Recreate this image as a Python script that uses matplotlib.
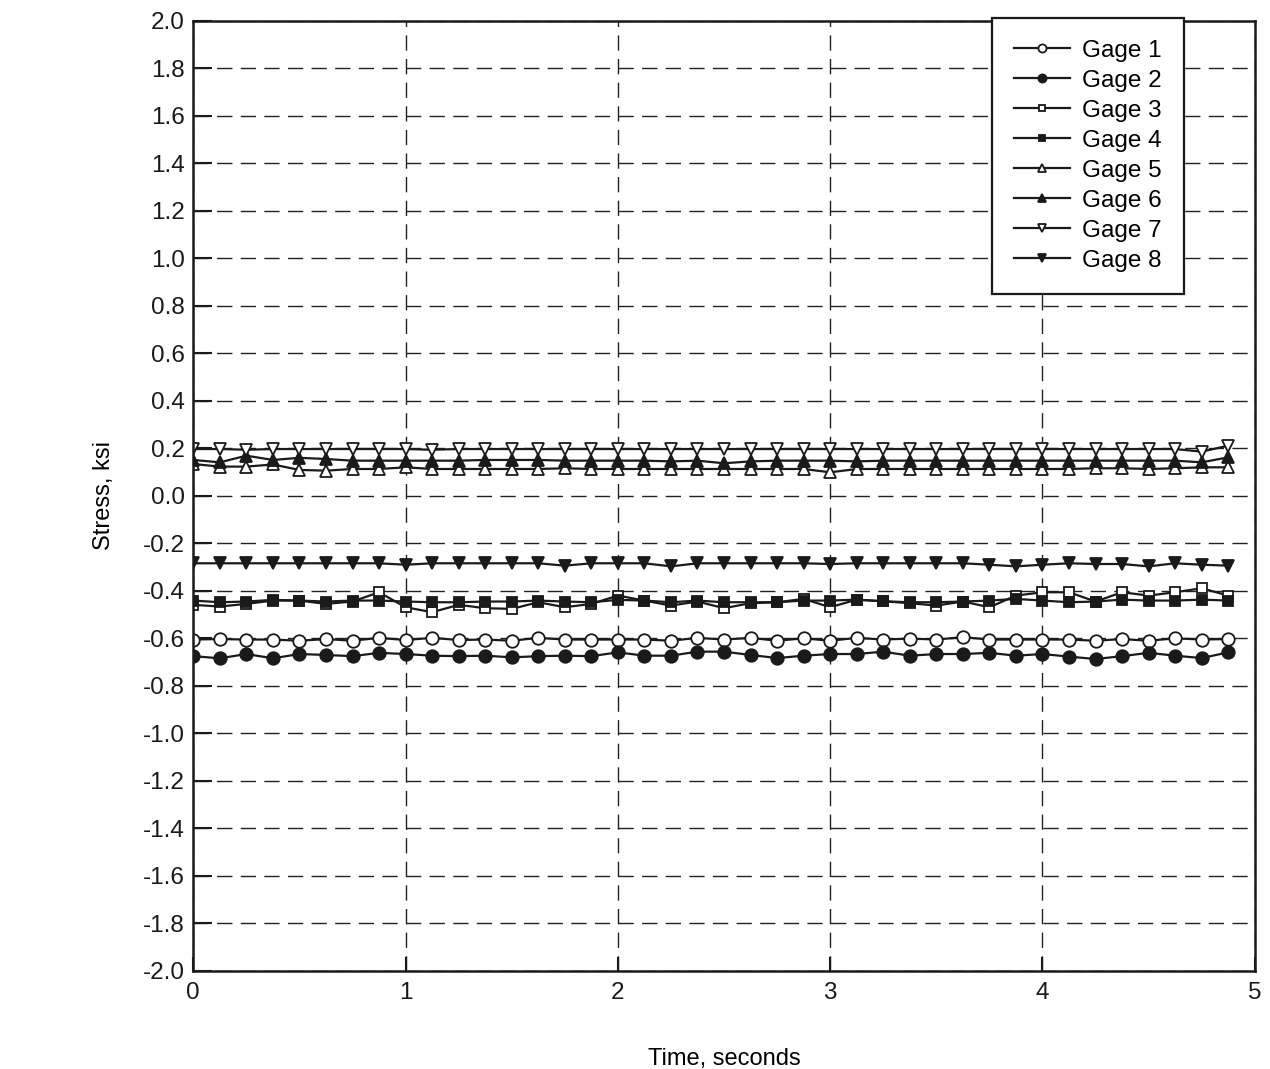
import numpy as np
import matplotlib.pyplot as plt

plt.rcParams['font.family'] = ['Liberation Sans', 'DejaVu Sans']

# sample times, s (one reading every 1/8 s)
time = [0.125 * i for i in range(40)]

# stress readings, ksi
gage1 = [-0.606, -0.604, -0.606, -0.606, -0.611, -0.604, -0.611, -0.599, -0.608, -0.599,
         -0.608, -0.606, -0.611, -0.599, -0.606, -0.606, -0.606, -0.606, -0.611, -0.599,
         -0.606, -0.599, -0.611, -0.601, -0.611, -0.599, -0.606, -0.602, -0.606, -0.596,
         -0.606, -0.606, -0.606, -0.606, -0.611, -0.604, -0.611, -0.601, -0.606, -0.604]
gage2 = [-0.676, -0.685, -0.667, -0.685, -0.667, -0.671, -0.676, -0.662, -0.667, -0.674,
         -0.676, -0.674, -0.681, -0.676, -0.674, -0.676, -0.660, -0.674, -0.674, -0.657,
         -0.657, -0.671, -0.684, -0.674, -0.667, -0.667, -0.657, -0.674, -0.667, -0.667,
         -0.662, -0.674, -0.667, -0.678, -0.688, -0.676, -0.662, -0.674, -0.684, -0.660]
gage3 = [-0.460, -0.467, -0.456, -0.442, -0.442, -0.456, -0.446, -0.407, -0.470, -0.491,
         -0.460, -0.474, -0.477, -0.449, -0.470, -0.456, -0.421, -0.442, -0.463, -0.446,
         -0.474, -0.453, -0.449, -0.435, -0.470, -0.438, -0.445, -0.453, -0.463, -0.446,
         -0.470, -0.421, -0.407, -0.407, -0.446, -0.407, -0.421, -0.407, -0.390, -0.421]
gage4 = [-0.442, -0.449, -0.446, -0.439, -0.442, -0.446, -0.442, -0.442, -0.446, -0.449,
         -0.449, -0.446, -0.446, -0.442, -0.446, -0.449, -0.439, -0.442, -0.449, -0.442,
         -0.449, -0.449, -0.449, -0.442, -0.442, -0.438, -0.445, -0.449, -0.449, -0.446,
         -0.442, -0.435, -0.442, -0.449, -0.446, -0.438, -0.442, -0.442, -0.438, -0.442]
gage5 = [0.133, 0.122, 0.122, 0.131, 0.108, 0.105, 0.112, 0.112, 0.119, 0.112,
         0.112, 0.112, 0.112, 0.112, 0.115, 0.112, 0.112, 0.112, 0.112, 0.112,
         0.112, 0.112, 0.112, 0.112, 0.098, 0.112, 0.112, 0.112, 0.112, 0.112,
         0.112, 0.112, 0.112, 0.112, 0.115, 0.115, 0.112, 0.115, 0.119, 0.119]
gage6 = [0.150, 0.140, 0.168, 0.150, 0.159, 0.154, 0.147, 0.147, 0.147, 0.147,
         0.147, 0.150, 0.150, 0.150, 0.147, 0.147, 0.147, 0.147, 0.144, 0.147,
         0.136, 0.144, 0.147, 0.147, 0.147, 0.144, 0.147, 0.147, 0.147, 0.147,
         0.147, 0.147, 0.147, 0.147, 0.147, 0.147, 0.147, 0.147, 0.140, 0.161]
gage7 = [0.196, 0.196, 0.193, 0.196, 0.196, 0.196, 0.196, 0.196, 0.196, 0.193,
         0.196, 0.196, 0.196, 0.196, 0.196, 0.196, 0.196, 0.196, 0.196, 0.196,
         0.196, 0.196, 0.196, 0.196, 0.196, 0.196, 0.196, 0.196, 0.196, 0.196,
         0.196, 0.196, 0.196, 0.196, 0.196, 0.196, 0.196, 0.196, 0.185, 0.210]
gage8 = [-0.285, -0.285, -0.285, -0.285, -0.285, -0.285, -0.285, -0.285, -0.291, -0.285,
         -0.285, -0.285, -0.285, -0.285, -0.295, -0.285, -0.285, -0.285, -0.298, -0.285,
         -0.285, -0.285, -0.285, -0.285, -0.288, -0.285, -0.285, -0.285, -0.285, -0.285,
         -0.291, -0.298, -0.291, -0.285, -0.288, -0.288, -0.298, -0.285, -0.291, -0.295]

labels = ['Gage 1', 'Gage 2', 'Gage 3', 'Gage 4', 'Gage 5', 'Gage 6', 'Gage 7', 'Gage 8']
xticks = [0, 1, 2, 3, 4, 5]
yticks = np.round(np.arange(-2.0, 2.01, 0.2), 1)

# marker, filled?, size
styles = [('o', False, 9), ('o', True, 9), ('s', False, 7.5), ('s', True, 7.5),
          ('^', False, 8.5), ('^', True, 8.5), ('v', False, 8.5), ('v', True, 8.5)]

fig = plt.figure(figsize=(12.7, 10.69), dpi=100)
ax = fig.add_axes([0.1522, 0.092, 0.8358, 0.8888])

for y, lab, (m, filled, ms) in zip([gage1, gage2, gage3, gage4, gage5, gage6, gage7, gage8],
                                   labels, styles):
    ax.plot(time, y, color='#1a1a1a', lw=1.6, marker=m, ms=ms, mew=1.3,
            mfc='#1a1a1a' if filled else 'white', mec='#1a1a1a', label=lab)

ax.set_xlim(0, 5)
ax.set_ylim(-2.0, 2.0)
ax.set_xticks(xticks)
ax.set_yticks(yticks)
ax.set_yticklabels([f'{v + 0.0:.1f}' if v != 0 else '0.0' for v in yticks])
ax.tick_params(direction='in', labelsize=17.5, width=1.5, colors='#1a1a1a')
ax.tick_params(axis='y', length=14, pad=6)
ax.tick_params(axis='x', length=10, pad=8)
ax.grid(True, color='#222222', lw=1, linestyle=(0, (11, 6)))
for s in ax.spines.values():
    s.set_linewidth(1.8)
    s.set_color('#1a1a1a')

ax.set_xlabel('Time, seconds', fontsize=17, labelpad=32)
ax.set_ylabel('Stress, ksi', fontsize=17, labelpad=20)

leg = ax.legend(loc='upper right', bbox_to_anchor=(0.933, 1.003), borderaxespad=0,
                fontsize=17.5, fancybox=False, framealpha=1, edgecolor='#1a1a1a',
                markerscale=0.65, handlelength=2.3, labelspacing=0.33,
                borderpad=0.9, handletextpad=0.5)
leg.get_frame().set_linewidth(1.6)

fig.savefig('out.png', dpi=100, facecolor='white')
